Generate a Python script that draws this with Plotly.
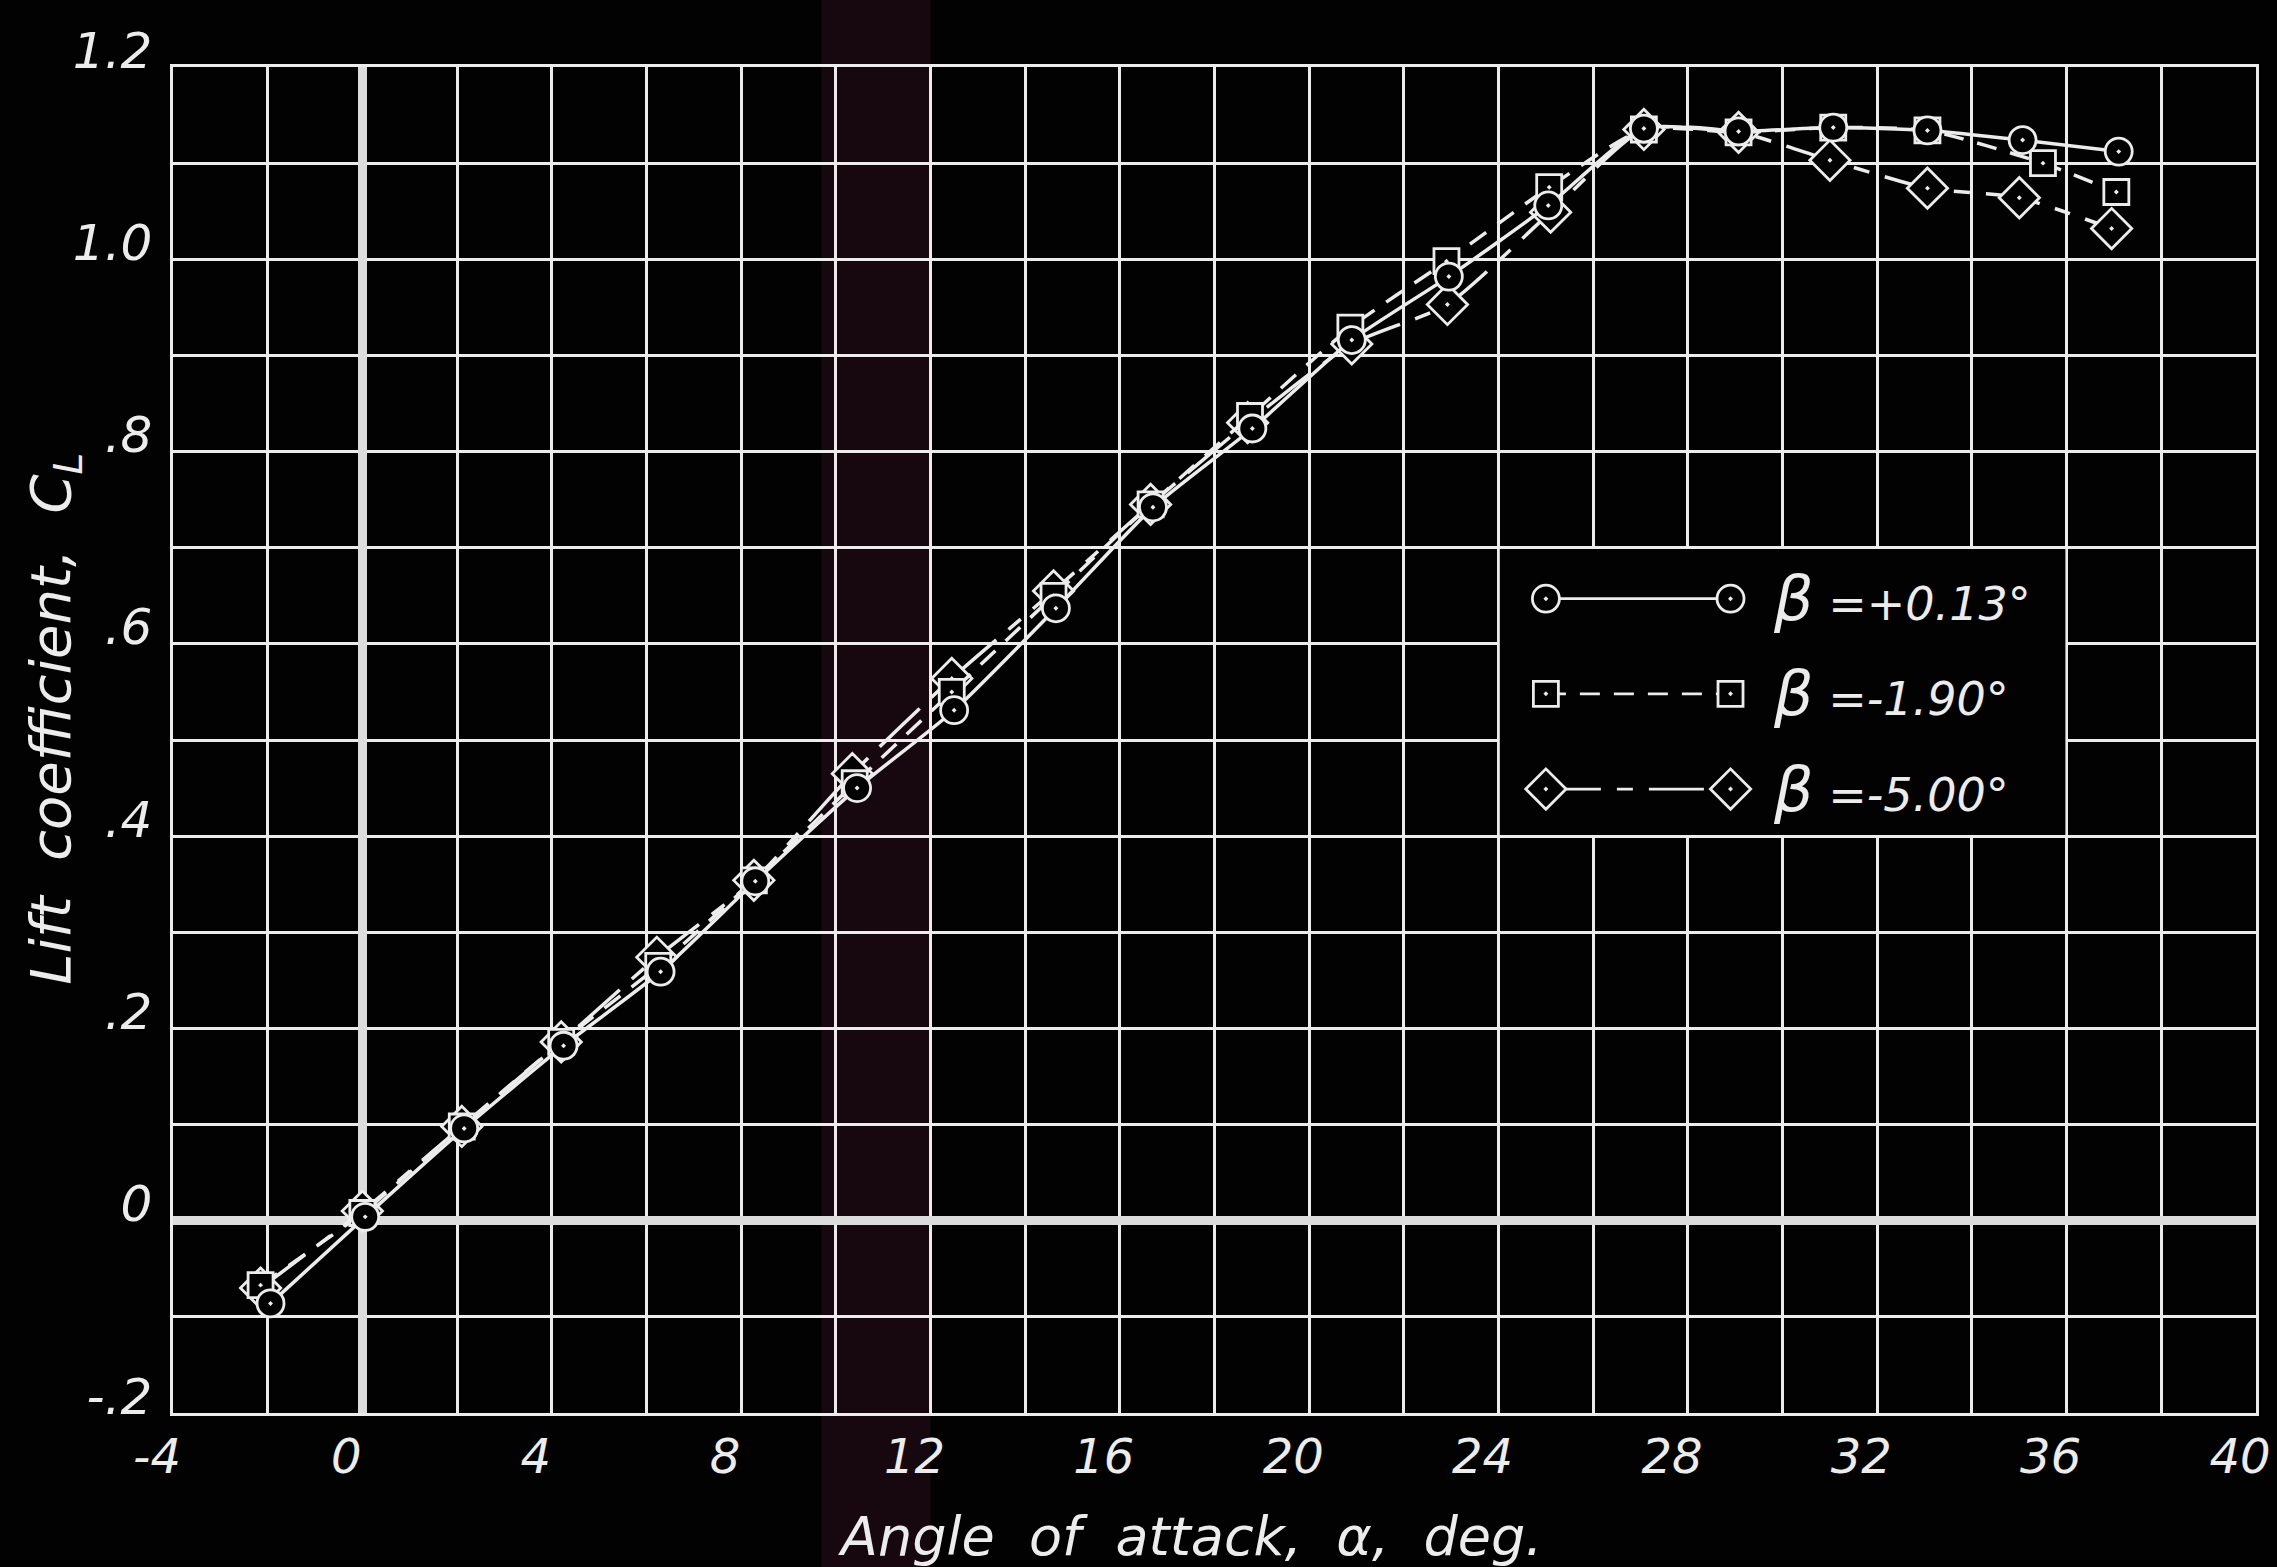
import plotly.graph_objects as go

# ---------------- data ----------------
alpha_plus013 = [-1.94, 0.06, 2.15, 4.25, 6.30, 8.30, 10.45, 12.50, 14.65, 16.70,
                 18.80, 20.90, 22.95, 25.05, 27.07, 29.07, 31.07, 33.06, 35.07, 37.10]
cl_plus013 = [-0.086, 0.004, 0.096, 0.182, 0.259, 0.353, 0.450, 0.531, 0.637, 0.742,
              0.824, 0.916, 0.982, 1.056, 1.136, 1.133, 1.137, 1.134, 1.124, 1.112]

alpha_minus190 = [-2.15, 0.00, 2.10, 4.20, 6.25, 8.27, 10.40, 12.45, 14.60, 16.65,
                  18.75, 20.87, 22.90, 25.07, 27.07, 29.07, 31.07, 33.06, 35.50, 37.05]
cl_minus190 = [-0.067, 0.008, 0.098, 0.186, 0.265, 0.354, 0.455, 0.550, 0.650, 0.745,
               0.837, 0.929, 0.998, 1.075, 1.135, 1.132, 1.137, 1.134, 1.100, 1.070]

alpha_minus500 = [-2.15, 0.00, 2.10, 4.20, 6.22, 8.27, 10.35, 12.45, 14.60, 16.65,
                  18.70, 20.90, 22.92, 25.10, 27.07, 29.07, 31.00, 33.06, 35.00, 36.95]
cl_minus500 = [-0.070, 0.010, 0.098, 0.186, 0.274, 0.354, 0.465, 0.564, 0.655, 0.745,
               0.830, 0.912, 0.953, 1.049, 1.135, 1.132, 1.103, 1.074, 1.064, 1.032]

series_labels = ["\u03b2 =+0.13\u00b0", "\u03b2 =-1.90\u00b0", "\u03b2 =-5.00\u00b0"]

x_tick_vals = list(range(-4, 41, 4))
x_tick_text = [str(v) for v in x_tick_vals]
y_tick_vals = [-0.2, 0.0, 0.2, 0.4, 0.6, 0.8, 1.0, 1.2]
y_tick_text = ["-.2", "0", ".2", ".4", ".6", ".8", "1.0", "1.2"]

x_title = "Angle&nbsp; of&nbsp; attack,&nbsp; \u03b1,&nbsp; deg."
y_title = "Lift&nbsp; coefficient,&nbsp; C<sub>L</sub>"

# ---------------- styles ----------------
BG = "#030203"
INK = "#ececec"
FONT = "DejaVu Sans"
LW = 3.5

styles = [
    dict(symbol="circle-dot", size=27, dash="solid"),
    dict(symbol="square-dot", size=25, dash="20px,14px"),
    dict(symbol="diamond-dot", size=31, dash="55px,16px,16px,16px"),
]
series = [
    (alpha_plus013, cl_plus013),
    (alpha_minus190, cl_minus190),
    (alpha_minus500, cl_minus500),
]

fig = go.Figure()

# draw back-to-front: diamond, square, circle
for idx in [2, 1, 0]:
    xs, ys = series[idx]
    st = styles[idx]
    fig.add_trace(go.Scatter(
        x=xs, y=ys, mode="lines+markers",
        line=dict(color=INK, width=LW, dash=st["dash"], shape="spline", smoothing=0.6),
        marker=dict(symbol=st["symbol"], size=st["size"], color=BG,
                    line=dict(color=INK, width=2.8)),
        name=series_labels[idx], showlegend=False, hoverinfo="x+y",
    ))

# ---- hand-drawn key (legend) inside the blanked grid cells ----
key_x = [25.0, 28.9]
key_y = [0.647, 0.548, 0.449]
for idx in range(3):
    st = styles[idx]
    fig.add_trace(go.Scatter(
        x=key_x, y=[key_y[idx], key_y[idx]], mode="lines+markers",
        line=dict(color=INK, width=2.8, dash=st["dash"]),
        marker=dict(symbol=st["symbol"], size=st["size"], color=BG,
                    line=dict(color=INK, width=2.8)),
        showlegend=False, hoverinfo="skip",
    ))
    fig.add_annotation(
        x=29.75, y=key_y[idx], xref="x", yref="y", xanchor="left", yanchor="middle",
        text="<span style='font-size:62px'>\u03b2</span>" + series_labels[idx][1:],
        showarrow=False,
        font=dict(family=FONT, size=46, color=INK, style="italic"),
    )

shapes = [
    # faint scan band
    dict(type="rect", xref="x", yref="paper", x0=9.7, x1=12.0, y0=-0.15, y1=1.06,
         fillcolor="rgba(70,22,45,0.30)", line=dict(width=0), layer="below"),
    # blank key box
    dict(type="rect", xref="x", yref="y", x0=24, x1=36, y0=0.4, y1=0.7,
         fillcolor=BG, line=dict(color=INK, width=2.5), layer="between"),
]

fig.add_annotation(
    x=0.488, y=-0.092, xref="paper", yref="paper", xanchor="center", yanchor="middle",
    text=x_title, showarrow=False,
    font=dict(family=FONT, size=54, color=INK, style="italic"),
)
fig.add_annotation(
    x=-0.057, y=0.516, xref="paper", yref="paper", xanchor="center", yanchor="middle",
    text=y_title, showarrow=False, textangle=-90,
    font=dict(family=FONT, size=56, color=INK, style="italic"),
)

fig.update_layout(
    width=2277, height=1567,
    margin=dict(l=173, r=21, t=67, b=154, autoexpand=False),
    paper_bgcolor=BG, plot_bgcolor=BG,
    shapes=shapes,
    showlegend=False,
    xaxis=dict(
        range=[-4, 40], tickmode="array", tickvals=x_tick_vals, ticktext=x_tick_text,
        automargin=False,
        showgrid=True, gridcolor=INK, gridwidth=2.5,
        minor=dict(dtick=2, tick0=0, showgrid=True, gridcolor=INK, gridwidth=2.5),
        zeroline=True, zerolinecolor="#dcdcdc", zerolinewidth=9,
        showline=True, linecolor=INK, linewidth=2.5, mirror=True,
        ticks="", ticklabelstandoff=0, ticklabelshift=-16, ticklabeloverflow="allow",
        tickfont=dict(family=FONT, size=48, color=INK, style="italic"),
    ),
    yaxis=dict(
        range=[-0.2, 1.2], tickmode="array", tickvals=y_tick_vals, ticktext=y_tick_text,
        automargin=False,
        showgrid=True, gridcolor=INK, gridwidth=2.5,
        minor=dict(dtick=0.1, tick0=0, showgrid=True, gridcolor=INK, gridwidth=2.5),
        zeroline=True, zerolinecolor="#dcdcdc", zerolinewidth=9,
        showline=True, linecolor=INK, linewidth=2.5, mirror=True,
        ticks="", ticklabelstandoff=8, ticklabelshift=-17, ticklabeloverflow="allow",
        tickfont=dict(family=FONT, size=50, color=INK, style="italic"),
    ),
)

fig.write_html("out.html")
